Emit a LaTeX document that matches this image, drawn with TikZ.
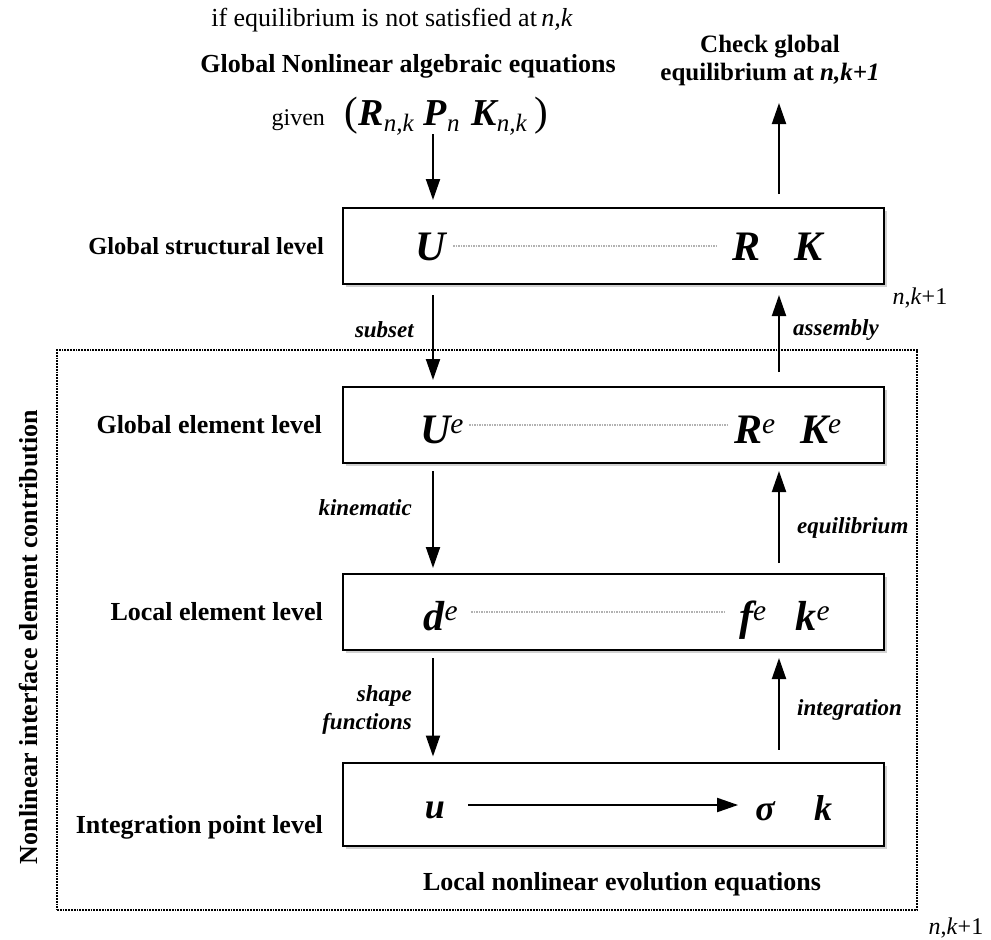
\documentclass[tikz,border=0pt]{standalone}
\usepackage{fontspec}
\setmainfont{Liberation Serif}
\usetikzlibrary{arrows.meta,shadows,calc}
\begin{document}
\begin{tikzpicture}[x=1pt,y=-1pt,
  lvbox/.style={draw,line width=2pt,fill=white,minimum width=541pt,minimum height=76pt,inner sep=0pt,
     drop shadow={shadow xshift=3pt,shadow yshift=-3pt,fill=gray!60,opacity=.6}},
  lvlbl/.style={font=\fontsize{26}{30}\selectfont\bfseries,anchor=east,inner sep=0pt},
  sym/.style={font=\fontsize{42}{46}\selectfont\bfseries\itshape,inner sep=1pt,anchor=base},
  symsm/.style={font=\fontsize{36}{40}\selectfont\bfseries\itshape,inner sep=1pt,anchor=base},
  arrlbl/.style={font=\fontsize{23}{28}\selectfont\bfseries\itshape,inner sep=0pt},
  arr/.style={line width=2pt,-{Triangle[length=21pt,width=14pt]}},
  dotln/.style={gray!60,line width=1.5pt,densely dotted},
  plain/.style={inner sep=0pt}]
\useasboundingbox (0,0) rectangle (991,940);
% outer dotted frame
\node[draw,densely dotted,line width=1.8pt,minimum width=860pt,minimum height=560pt,inner sep=0pt] (outer) at (487,630) {};
\node[plain,rotate=90,font=\fontsize{26}{28}\selectfont\bfseries] (vert) at (29,637) {Nonlinear interface element contribution};
% helper x positions
\coordinate (lx) at (433,0);
\coordinate (rx) at (779,0);
\coordinate (gstart) at (433,134);
\coordinate (ctip) at (779,103);
% top texts
\node[plain,font=\fontsize{26}{30}\selectfont] (top1) at (392,20) {if equilibrium is not satisfied at\,\textit{n,k}};
\node[plain,font=\fontsize{26}{30}\selectfont\bfseries] (top2) at (408,66) {Global Nonlinear algebraic equations};
\node[plain,font=\fontsize{24}{26}\selectfont,anchor=base] (given) at (410,125) {given\hspace{20pt}{\fontsize{41}{41}\selectfont(}%
 {\fontsize{38}{38}\selectfont\bfseries\itshape R}\raisebox{-6pt}{\fontsize{25}{25}\selectfont\itshape n,k}\hspace{10pt}%
 {\fontsize{38}{38}\selectfont\bfseries\itshape P}\raisebox{-6pt}{\fontsize{25}{25}\selectfont\itshape n}\hspace{12pt}%
 {\fontsize{38}{38}\selectfont\bfseries\itshape K}\raisebox{-6pt}{\fontsize{25}{25}\selectfont\itshape n,k}\hspace{8pt}%
 {\fontsize{41}{41}\selectfont)}};
\node[plain,font=\fontsize{25}{28}\selectfont\bfseries,align=center] (check) at (770,60) {Check global\\equilibrium at \textit{n,k+1}};
% boxes
\node[lvbox] (b1) at (613.5,246) {};
\node[lvbox] (b2) at (613.5,425) {};
\node[lvbox] (b3) at (613.5,612) {};
\node[lvbox,minimum height=83pt] (b4) at (613.5,804) {};
% level labels
\node[lvlbl,font=\fontsize{24.5}{30}\selectfont\bfseries] (l1) at (324,246) {Global structural level};
\node[lvlbl] (l2) at (322,425) {Global element level};
\node[lvlbl] (l3) at (323,612) {Local element level};
\node[lvlbl] (l4) at (323,827) {Integration point level};
% symbols box 1
\node[sym] (U1) at (431,260) {U};
\node[sym] (R1) at (746,260) {R};
\node[sym] (K1) at (808,260) {K};
\draw[dotln] ($(U1.east |- b1.center)+(6,0)$) -- ($(R1.west |- b1.center)+(-14,0)$);
% box 2
\node[sym] (U2) at (442,443) {U\textsuperscript{\mdseries e}};
\node[sym] (R2) at (755,443) {R\textsuperscript{\mdseries e}};
\node[sym] (K2) at (821,443) {K\textsuperscript{\mdseries e}};
\draw[dotln] ($(U2.east |- b2.center)+(4,0)$) -- ($(R2.west |- b2.center)+(-4,0)$);
% box 3
\node[sym] (d3) at (441,630) {d\textsuperscript{\mdseries e}};
\node[sym] (f3) at (753,630) {f\textsuperscript{\mdseries e}};
\node[sym] (k3) at (813,630) {k\textsuperscript{\mdseries e}};
\draw[dotln] ($(d3.east |- b3.center)+(12,0)$) -- ($(f3.west |- b3.center)+(-14,0)$);
% box 4
\node[symsm] (u4) at (435,818) {u};
\node[symsm] (s4) at (765,820) {σ};
\node[symsm] (k4) at (823,820) {k};
\draw[arr] ($(u4.east |- b4.center)+(22,1)$) -- ($(s4.west |- b4.center)+(-16,1)$);
% vertical arrows
\draw[arr,shorten >=7pt] (gstart) -- (lx |- b1.north);
\draw[arr,shorten <=13pt] (rx |- b1.north) -- (ctip);
\draw[arr,shorten <=10pt,shorten >=6pt] (lx |- b1.south) -- (lx |- b2.north);
\draw[arr,shorten <=14pt,shorten >=10pt] (rx |- b2.north) -- (rx |- b1.south);
\draw[arr,shorten <=7pt,shorten >=5pt] (lx |- b2.south) -- (lx |- b3.north);
\draw[arr,shorten <=10pt,shorten >=7pt] (rx |- b3.north) -- (rx |- b2.south);
\draw[arr,shorten <=7pt,shorten >=5pt] (lx |- b3.south) -- (lx |- b4.north);
\draw[arr,shorten <=12pt,shorten >=7pt] (rx |- b4.north) -- (rx |- b3.south);
% arrow labels
\node[arrlbl,anchor=east] (subset) at (414,330) {subset};
\node[arrlbl,anchor=west] (assembly) at (793,330) {assembly};
\node[arrlbl,anchor=east] (kinematic) at (412,508) {kinematic};
\node[arrlbl,anchor=west] (equil) at (797,528) {equilibrium};
\node[arrlbl,anchor=east,align=right] (shape) at (412,710) {shape\\functions};
\node[arrlbl,anchor=west] (integ) at (797,710) {integration};
\node[plain,font=\fontsize{26}{30}\selectfont\bfseries] (evol) at (622,884) {Local nonlinear evolution equations};
% n,k+1 labels
\node[plain,font=\fontsize{24}{26}\selectfont] (nk1) at (920,298) {\textit{n},\textit{k}+1};
\node[plain,font=\fontsize{24}{26}\selectfont] (nk2) at (956,928) {\textit{n},\textit{k}+1};
\end{tikzpicture}
\end{document}
